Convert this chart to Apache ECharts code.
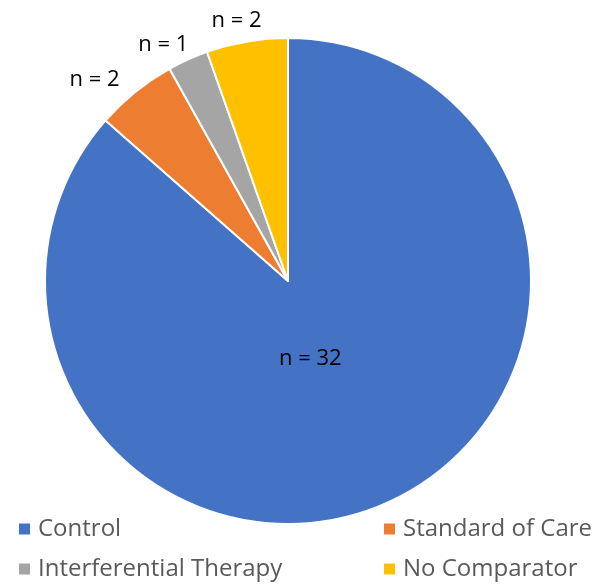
<!DOCTYPE html>
<html>
<head>
<meta charset="utf-8">
<script src="https://cdn.jsdelivr.net/npm/echarts@6/dist/echarts.min.js"></script>
<style>
  html, body { margin: 0; padding: 0; background: #fff; }
  #chart { width: 599px; height: 587px; }
</style>
</head>
<body>
<div id="chart"></div>
<script>
// comparator groups and study counts
const categories = ['Control', 'Standard of Care', 'Interferential Therapy', 'No Comparator']
const counts = [32, 2, 1, 2]
const colors = ['#4472C4', '#ED7D31', '#A5A5A5', '#FFC000']
// nudges so the labels sit where the original put them
const labelOffsets = [[-29, -36], [-6, -1], [12, -4], [22, -7]]

const chart = echarts.init(document.getElementById('chart'))

const pieData = categories.map((name, i) => {
  const item = {
    name: name,
    value: counts[i],
    itemStyle: { color: colors[i] },
    label: { offset: labelOffsets[i] }
  }
  if (i === 0) {
    item.label.position = 'inside'
  }
  return item
})

const legendText = { fontFamily: 'Open Sans', fontSize: 24, color: '#595959', padding: [0, 0, 0, 2] }

const option = {
  animation: false,
  legend: [
    {
      orient: 'vertical',
      left: 17,
      top: 517,
      padding: 0,
      itemWidth: 13,
      itemHeight: 13,
      itemGap: 16,
      icon: 'rect',
      textStyle: legendText,
      data: ['Control', 'Interferential Therapy']
    },
    {
      orient: 'vertical',
      left: 382,
      top: 517,
      padding: 0,
      itemWidth: 13,
      itemHeight: 13,
      itemGap: 16,
      icon: 'rect',
      textStyle: legendText,
      data: ['Standard of Care', 'No Comparator']
    }
  ],
  series: [
    {
      type: 'pie',
      center: [288, 281],
      radius: 243,
      startAngle: 90,
      clockwise: true,
      itemStyle: { borderColor: '#fff', borderWidth: 2 },
      label: {
        show: true,
        position: 'outside',
        formatter: 'n = {c}',
        fontFamily: 'Open Sans',
        fontSize: 22,
        color: '#000'
      },
      labelLine: { show: false, length: 14, length2: 0 },
      emphasis: { disabled: true },
      data: pieData
    }
  ]
}

chart.setOption(option)
</script>
</body>
</html>
